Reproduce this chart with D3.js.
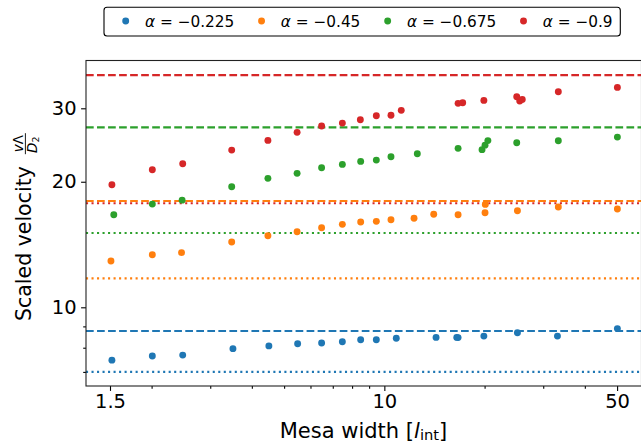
<!DOCTYPE html>
<html>
<head>
<meta charset="utf-8">
<script src="https://cdn.jsdelivr.net/npm/d3@7"></script>
<style>
  html, body { margin: 0; padding: 0; background: #fff; }
  svg { display: block; }
  text { font-family: "DejaVu Sans", sans-serif; fill: #000; }
</style>
</head>
<body>
<svg id="chart" width="641" height="443"></svg>
<script>
// ---------------- data ----------------
const alphaLabels = ["−0.225", "−0.45", "−0.675", "−0.9"];
const colors = ["#1f77b4", "#ff7f0e", "#2ca02c", "#d62728"];
const dashedLevels = [8.77, 17.98, 27.0, 36.03];
const dottedLevels = [7.0, 11.73, 15.07, 17.76];

const xBlue = [1.52, 2.01, 2.48, 3.51, 4.50, 5.49, 6.48, 7.48, 8.49, 9.46, 10.86, 14.3, 16.5, 16.65, 19.9, 25.1, 33.1, 50.1];
const yBlue = [7.47, 7.64, 7.68, 7.96, 8.08, 8.18, 8.21, 8.27, 8.36, 8.36, 8.43, 8.47, 8.47, 8.46, 8.53, 8.69, 8.53, 8.89];

const xOrange = [1.51, 2.01, 2.46, 3.48, 4.47, 5.47, 6.48, 7.48, 8.49, 9.46, 10.47, 12.28, 14.07, 16.65, 20.06, 20.1, 25.1, 33.3, 50.1];
const yOrange = [12.91, 13.37, 13.52, 14.34, 14.84, 15.18, 15.51, 15.81, 16.01, 16.07, 16.22, 16.35, 16.71, 16.67, 16.85, 17.65, 17.04, 17.39, 17.2];

const xGreen = [1.54, 2.01, 2.47, 3.48, 4.47, 5.47, 6.48, 7.48, 8.49, 9.46, 10.47, 12.56, 16.65, 19.65, 20.06, 20.46, 24.98, 33.3, 50.1];
const yGreen = [16.67, 17.68, 18.07, 19.45, 20.38, 20.95, 21.6, 22.01, 22.38, 22.54, 22.96, 23.34, 24.05, 23.88, 24.48, 25.1, 24.8, 25.07, 25.59];

const xRed = [1.52, 2.01, 2.48, 3.48, 4.47, 5.47, 6.48, 7.48, 8.47, 9.46, 10.47, 11.24, 16.65, 17.19, 19.9, 24.98, 25.5, 25.95, 33.3, 50.1];
const yRed = [19.67, 21.37, 22.08, 23.82, 25.13, 26.27, 27.2, 27.65, 28.16, 28.79, 28.86, 29.66, 30.83, 30.93, 31.34, 31.97, 31.22, 31.51, 32.86, 33.67];

const xMajorTicks = [1.5, 10, 50];
const xTickLabels = ["1.5", "10", "50"];
const xMinorTicks = [2, 3, 4, 5, 6, 7, 8, 9, 20, 30, 40];
const yMajorTicks = [10, 20, 30];
const yTickLabels = ["10", "20", "30"];
const yMinorTicks = [7, 8, 9];

// ---------------- layout ----------------
const svg = d3.select("#chart");
const L = 86, R = 641, T = 60.5, B = 386;

const x = d3.scaleLog().domain([1.5, 50]).range([110, 617.1]);
const xDomainFull = [x.invert(L), x.invert(R)];
x.domain(xDomainFull).range([L, R]);

const y = d3.scaleLog().domain([10, 30]).range([307.3, 108.3]);
const yDomainFull = [y.invert(B), y.invert(T)];
y.domain(yDomainFull).range([B, T]);

const seriesX = [xBlue, xOrange, xGreen, xRed];
const seriesY = [yBlue, yOrange, yGreen, yRed];

svg.append("defs").append("clipPath").attr("id", "clip")
  .append("rect").attr("x", L).attr("y", T).attr("width", R - L + 5).attr("height", B - T);

const plot = svg.append("g").attr("clip-path", "url(#clip)");

// reference lines
for (let i = 0; i < 4; i++) {
  plot.append("line")
    .attr("x1", L).attr("x2", R + 5)
    .attr("y1", y(dashedLevels[i])).attr("y2", y(dashedLevels[i]))
    .attr("stroke", colors[i]).attr("stroke-width", 2.08)
    .attr("stroke-dasharray", "7.7 3.33");
  plot.append("line")
    .attr("x1", L).attr("x2", R + 5)
    .attr("y1", y(dottedLevels[i])).attr("y2", y(dottedLevels[i]))
    .attr("stroke", colors[i]).attr("stroke-width", 2.08)
    .attr("stroke-dasharray", "2.08 3.43");
}

// points
for (let i = 0; i < 4; i++) {
  const pts = seriesX[i].map((v, j) => [v, seriesY[i][j]]);
  plot.append("g").selectAll("circle").data(pts).join("circle")
    .attr("cx", d => x(d[0])).attr("cy", d => y(d[1]))
    .attr("r", 3.45).attr("fill", colors[i]);
}

// axes
const xAxis = d3.axisBottom(x).tickValues(xMajorTicks)
  .tickFormat((d, i) => xTickLabels[i]).tickSize(4.9).tickPadding(3);
const xAxisMinor = d3.axisBottom(x).tickValues(xMinorTicks).tickFormat("").tickSize(2.8);
const yAxis = d3.axisLeft(y).tickValues(yMajorTicks)
  .tickFormat((d, i) => yTickLabels[i]).tickSize(4.9).tickPadding(4.5);
const yAxisMinor = d3.axisLeft(y).tickValues(yMinorTicks).tickFormat("").tickSize(2.8);

function styleAxis(g) {
  g.select(".domain").remove();
  g.selectAll(".tick line").attr("stroke", "#000").attr("stroke-width", 1.1);
  g.selectAll(".tick text").attr("font-family", "DejaVu Sans").attr("font-size", "19.5px").attr("fill", "#000");
}
svg.append("g").attr("transform", `translate(0,${B})`).call(xAxis).call(styleAxis);
svg.append("g").attr("transform", `translate(0,${B})`).call(xAxisMinor).call(styleAxis);
svg.append("g").attr("transform", `translate(${L},0)`).call(yAxis).call(styleAxis);
svg.append("g").attr("transform", `translate(${L},0)`).call(yAxisMinor).call(styleAxis);

// frame
svg.append("rect").attr("x", L).attr("y", T).attr("width", R - L + 0.5).attr("height", B - T)
  .attr("fill", "none").attr("stroke", "#222").attr("stroke-width", 1.1);

// x label
const xl = svg.append("text").attr("x", (L + R) / 2).attr("y", 437.5)
  .attr("text-anchor", "middle").attr("font-size", "21px");
xl.append("tspan").text("Mesa width [");
xl.append("tspan").attr("font-style", "italic").text("l");
xl.append("tspan").attr("font-size", "14.7px").attr("dy", 2.5).text("int");
xl.append("tspan").attr("dy", -2.5).text("]");

// y label
const yl = svg.append("g").attr("transform", "translate(31,321) rotate(-90)");
const ylt = yl.append("text").attr("x", 0).attr("y", 0).attr("font-size", "20.5px").text("Scaled velocity");
const tl = ylt.node().getComputedTextLength();
const fx = tl + 12;
const fw = 21;
yl.append("line").attr("x1", fx).attr("x2", fx + fw).attr("y1", -5.6).attr("y2", -5.6)
  .attr("stroke", "#000").attr("stroke-width", 0.9);
const num = yl.append("text").attr("x", fx + fw / 2).attr("y", -7.8)
  .attr("text-anchor", "middle").attr("font-size", "13.5px");
num.append("tspan").attr("font-style", "italic").text("v");
num.append("tspan").text("Λ");
const den = yl.append("text").attr("x", fx + fw / 2 - 1).attr("y", 5.8)
  .attr("text-anchor", "middle").attr("font-size", "13.5px");
den.append("tspan").attr("font-style", "italic").text("D");
den.append("tspan").attr("font-size", "9.5px").attr("dy", 2).text("2");

// legend
const lg = svg.append("g");
const box = lg.append("rect").attr("x", 104).attr("y", 7.3).attr("height", 28.7)
  .attr("rx", 3).attr("ry", 3).attr("fill", "#fff").attr("stroke", "#000").attr("stroke-width", 1.1);
let cursor = 125.7;
for (let i = 0; i < 4; i++) {
  lg.append("circle").attr("cx", cursor).attr("cy", 21).attr("r", 3.45).attr("fill", colors[i]);
  const t = lg.append("text").attr("x", cursor + 19.3).attr("y", 26.7).attr("font-size", "15.3px");
  t.append("tspan").attr("font-style", "italic").text("α");
  t.append("tspan").text(" = " + alphaLabels[i]);
  const w = t.node().getComputedTextLength();
  const end = cursor + 19.3 + w;
  if (i < 3) cursor = end + 27.3;
  else box.attr("width", end + 7.7 - 104);
}
</script>
</body>
</html>
